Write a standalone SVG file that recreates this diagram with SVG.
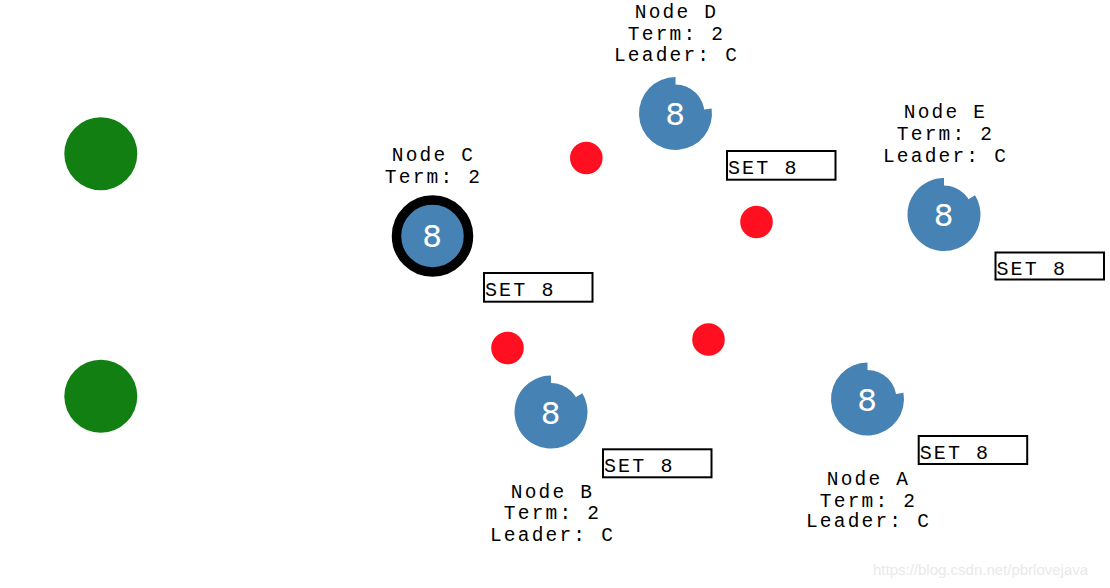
<svg xmlns="http://www.w3.org/2000/svg" width="1110" height="588" viewBox="0 0 1110 588">
<style>
.lbl{font-family:"Liberation Mono","Courier New",monospace;font-size:19.5px;letter-spacing:2.2px;fill:#000;text-anchor:middle}
.set{font-family:"Liberation Mono","Courier New",monospace;font-size:20px;letter-spacing:2.1px;fill:#000}
.box{fill:#fff;stroke:#000;stroke-width:2}
.body{fill:#4682b4}
.num{font-family:"DejaVu Sans",sans-serif;font-size:31px;fill:#fff;text-anchor:middle}
.client{fill:#117f11}
.msg{fill:#ff0f1f}
.wm{font-family:"Liberation Sans",Arial,sans-serif;font-size:15px;fill:#e9e9e9}
</style>
<rect width="1110" height="588" fill="#fff"/>
<g id="clients">
<circle class="client" cx="100.8" cy="153.7" r="36.5"/>
<circle class="client" cx="100.8" cy="396.3" r="36.5"/>
</g>
<g id="connectors">
<circle class="msg" cx="586.3" cy="158" r="16.3"/>
<circle class="msg" cx="756.5" cy="222" r="16.3"/>
<circle class="msg" cx="507.5" cy="348" r="16.3"/>
<circle class="msg" cx="708.5" cy="339.5" r="16.3"/>
</g>
<g id="nodeC">
<circle class="body" cx="432.5" cy="236" r="36" stroke="#000" stroke-width="9.5"/>
<text class="num" x="432" y="247.3">8</text>
<text class="lbl"><tspan x="433.5" y="161">Node C</tspan><tspan x="433.5" y="183">Term: 2</tspan></text>
<rect class="box" x="484" y="273" width="108.5" height="28.7"/>
<text class="set" x="485" y="296.3">SET 8</text>
</g>
<g id="nodeD">
<path class="body" d="M675.5 113.5 L711.64 108.42 A36.5 36.5 0 1 1 675.5 77 Z"/>
<circle class="body" cx="675.5" cy="113.5" r="29"/>
<text class="num" x="675" y="125.3">8</text>
<text class="lbl"><tspan x="676.5" y="18">Node D</tspan><tspan x="676.5" y="39.5">Term: 2</tspan><tspan x="676.5" y="61">Leader: C</tspan></text>
<rect class="box" x="727" y="151" width="108.5" height="28.7"/>
<text class="set" x="728" y="174">SET 8</text>
</g>
<g id="nodeE">
<path class="body" d="M944 214.5 L974.95 195.16 A36.5 36.5 0 1 1 944 178 Z"/>
<circle class="body" cx="944" cy="214.5" r="29"/>
<text class="num" x="943.5" y="226.3">8</text>
<text class="lbl"><tspan x="945.5" y="118">Node E</tspan><tspan x="945.5" y="140">Term: 2</tspan><tspan x="945.5" y="161.5">Leader: C</tspan></text>
<rect class="box" x="995.5" y="252.5" width="108.5" height="27"/>
<text class="set" x="996.5" y="275">SET 8</text>
</g>
<g id="nodeB">
<path class="body" d="M551 412 L582.29 393.2 A36.5 36.5 0 1 1 551 375.5 Z"/>
<circle class="body" cx="551" cy="412" r="29"/>
<text class="num" x="550.5" y="423.8">8</text>
<text class="lbl"><tspan x="552.5" y="497.7">Node B</tspan><tspan x="552.5" y="519.3">Term: 2</tspan><tspan x="552.5" y="540.7">Leader: C</tspan></text>
<rect class="box" x="603" y="449.3" width="108.5" height="28"/>
<text class="set" x="604" y="472">SET 8</text>
</g>
<g id="nodeA">
<path class="body" d="M867.5 399 L903.45 392.66 A36.5 36.5 0 1 1 867.5 362.5 Z"/>
<circle class="body" cx="867.5" cy="399" r="29"/>
<text class="num" x="867" y="410.8">8</text>
<text class="lbl"><tspan x="868.5" y="485">Node A</tspan><tspan x="868.5" y="506.7">Term: 2</tspan><tspan x="868.5" y="527">Leader: C</tspan></text>
<rect class="box" x="918.7" y="436" width="108.5" height="28"/>
<text class="set" x="919.7" y="459">SET 8</text>
</g>
<text class="wm" x="873" y="575">https://blog.csdn.net/pbrlovejava</text>
</svg>
